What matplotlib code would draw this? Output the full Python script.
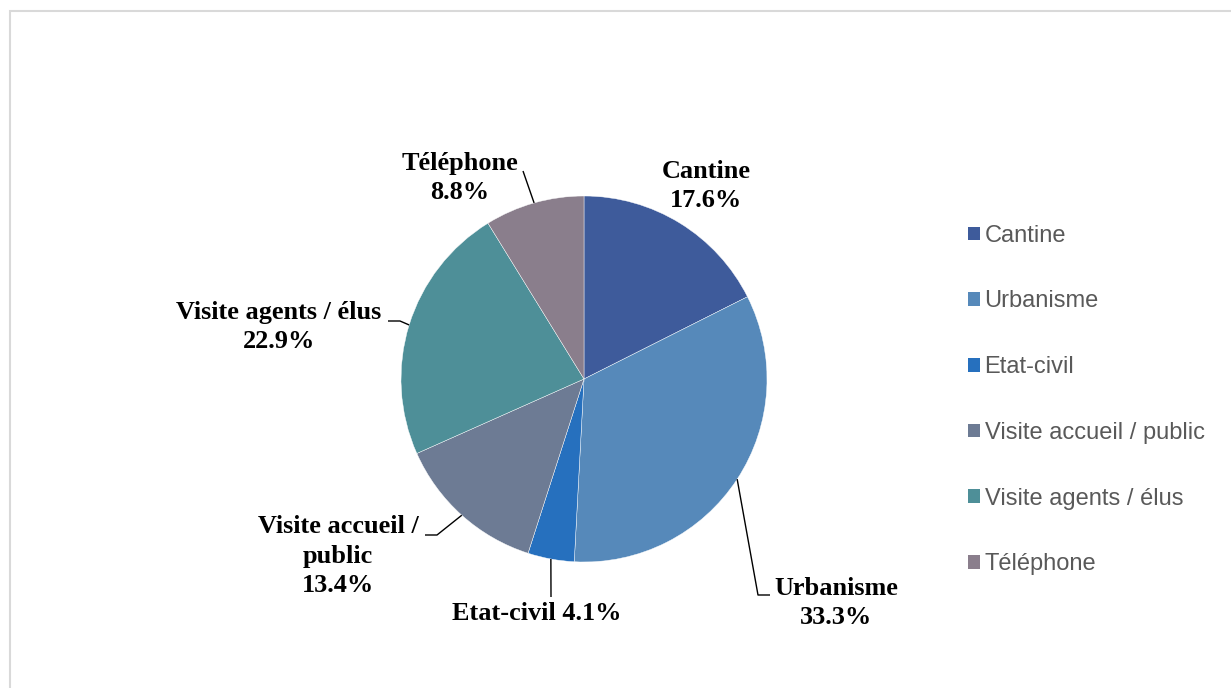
import matplotlib.pyplot as plt
from matplotlib.patches import Rectangle
import numpy as np

categories = ['Cantine', 'Urbanisme', 'Etat-civil', 'Visite accueil / public',
              'Visite agents / élus', 'Téléphone']
values = [17.6, 33.3, 4.1, 13.4, 22.9, 8.8]
colors = ['#3E5B9B', '#5689BA', '#2670BE', '#6D7B94', '#4E8F98', '#8A7E8C']

# label text as shown on the chart (line breaks as in the original)
label_texts = ['Cantine\n{:.1f}%', 'Urbanisme\n{:.1f}%', 'Etat-civil {:.1f}%',
               'Visite accueil /\npublic\n{:.1f}%', 'Visite agents / élus\n{:.1f}%',
               'Téléphone\n{:.1f}%']

W, H = 1231, 688
CX, CY, R = 584, 379, 183  # pie centre / radius in pixels


def px(x, y):
    # pixel position -> data coords (pie radius = 1)
    return ((x - CX) / R, (CY - y) / R)


# label centres and leader-line bends, in pixels
label_pos = [(706, 186), (836, 603), (537, 613), (338, 556), (279, 327), (460, 178)]
leader_pts = [None,
              [(770, 595), (758, 595)],
              [(551, 597)],
              [(425, 535), (437, 535)],
              [(388, 321), (400, 321)],
              [(523, 171)]]

fig = plt.figure(figsize=(W / 100, H / 100), dpi=100)
ax = fig.add_axes([0, 0, 1, 1])

wedges, _ = ax.pie(values, colors=colors, startangle=90, counterclock=False,
                   radius=1, wedgeprops=dict(edgecolor='white', linewidth=0.3))

ax.set_xlim(-CX / R, (W - CX) / R)
ax.set_ylim(-(H - CY) / R, CY / R)
ax.set_aspect('auto')
ax.axis('off')

for i, w in enumerate(wedges):
    txt = label_texts[i].format(values[i])
    lx, ly = px(*label_pos[i])
    ax.text(lx, ly, txt, ha='center', va='center', fontsize=18.9,
            fontweight='bold', family='Liberation Serif', color='black',
            linespacing=1.36)
    if leader_pts[i] is not None:
        mid = np.deg2rad((w.theta1 + w.theta2) / 2)
        pts = [px(*p) for p in leader_pts[i]] + [(np.cos(mid), np.sin(mid))]
        xs, ys = zip(*pts)
        ax.plot(xs, ys, color='black', lw=1.0, solid_capstyle='butt')

leg = fig.legend(wedges, categories, loc='center left',
                 bbox_to_anchor=(968 / W, 1 - 400 / H), frameon=False,
                 prop={'family': 'Liberation Sans', 'size': 17},
                 handlelength=0.5, handleheight=0.5, handletextpad=0.2,
                 labelspacing=1.85, borderpad=0, borderaxespad=0)
for t in leg.get_texts():
    t.set_color('#595959')
for h in leg.legend_handles:
    h.set_edgecolor('none')

fig.patches.append(Rectangle((9.5 / W, -0.1), 1.2, 1 - 11.5 / H + 0.1,
                             transform=fig.transFigure, fill=False,
                             edgecolor='#D9D9D9', linewidth=1.5))

fig.savefig('out.png', dpi=100, facecolor='white')
